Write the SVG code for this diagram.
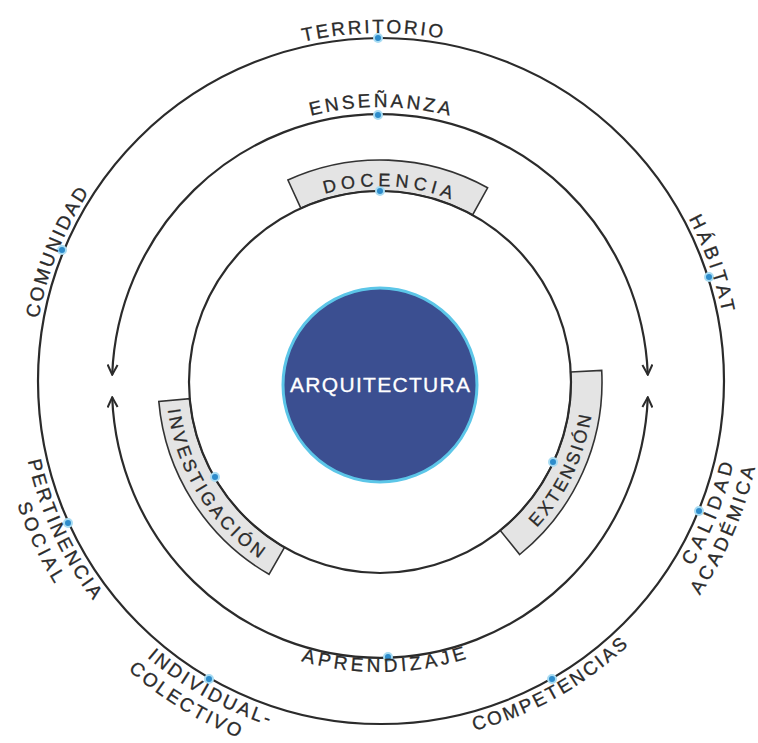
<svg xmlns="http://www.w3.org/2000/svg" xmlns:xlink="http://www.w3.org/1999/xlink" width="758" height="743" viewBox="0 0 758 743">
<style>
.ln{fill:none;stroke:#2b2b2b;stroke-width:2.2}
.tab{fill:#e4e4e4;stroke:#333;stroke-width:1.6}
.lbl{font-family:"Liberation Sans",Arial,sans-serif;font-size:19px;fill:#2b2b2b;stroke:#2b2b2b;stroke-width:0.3}
.tl{font-size:18px}
.dot{fill:#2d8ccb;stroke:#a8dcf3;stroke-width:2}
.ctr{font-family:"Liberation Sans",Arial,sans-serif;font-size:21px;fill:#ffffff;stroke:#ffffff;stroke-width:0.3}
</style>
<defs>
<marker id="arr" viewBox="0 0 12 12" refX="11" refY="6" markerWidth="12" markerHeight="12" markerUnits="userSpaceOnUse" orient="auto-start-reverse">
<path d="M1,1 L11,6 L1,11" fill="none" stroke="#2b2b2b" stroke-width="2"/>
</marker>
<path id="oCw" d="M79.6,207 A348,348 0 0 1 682.4,207"/>
<path id="oCcw1" d="M67.5,562 A362,362 0 0 0 694.5,562"/>
<path id="oCcw2" d="M48.4,573 A384,384 0 0 0 713.6,573"/>
<path id="mCw" d="M138.4,246.5 A279,279 0 0 1 621.6,246.5"/>
<path id="mCcw" d="M132.3,529 A286,286 0 0 0 627.7,529"/>
<path id="iCw" d="M210.3,284 A196,196 0 0 1 549.7,284"/>
<path id="iCcw" d="M194.7,489 A214,214 0 0 0 565.3,489"/>
</defs>
<rect width="758" height="743" fill="#ffffff"/>

<g id="outer-ring">
<circle class="ln" cx="381" cy="381" r="343"/>
</g>

<g id="connectors">
<path class="ln" d="M112.2,374.7 A268,271 0 0 1 647.8,374.7" marker-start="url(#arr)" marker-end="url(#arr)"/>
<path class="ln" d="M112.2,397.3 A268,271 0 0 0 647.8,397.3" marker-start="url(#arr)" marker-end="url(#arr)"/>
</g>

<g id="tab-docencia">
<path class="tab" d="M300.8,208.2 L287.9,180 A222,222 0 0 1 487.6,187.8 L472.6,215 A191,191 0 0 0 300.8,208.2 Z"/>
</g>
<g id="tab-investigacion">
<path class="tab" d="M284.5,547.4 L269,574.3 A222,222 0 0 1 158.8,401.4 L189.7,398.7 A191,191 0 0 0 284.5,547.4 Z"/>
</g>
<g id="tab-extension">
<path class="tab" d="M570.7,372 L601.7,370.4 A222,222 0 0 1 519.7,554.5 L500.2,530.4 A191,191 0 0 0 570.7,372 Z"/>
</g>

<g id="inner-ring">
<circle class="ln" cx="380" cy="382" r="191"/>
</g>

<g id="arquitectura">
<circle cx="380" cy="385" r="97" fill="#3b4f91" stroke="#5cc6e8" stroke-width="3"/>
<text class="ctr" x="380" y="392" text-anchor="middle" textLength="180" lengthAdjust="spacing">ARQUITECTURA</text>
</g>

<g id="dots">
<circle class="dot" cx="378" cy="38" r="4"/>
<circle class="dot" cx="378" cy="115" r="4"/>
<circle class="dot" cx="380" cy="191" r="4"/>
<circle class="dot" cx="62" cy="250" r="4"/>
<circle class="dot" cx="709" cy="277" r="4"/>
<circle class="dot" cx="68" cy="523" r="4"/>
<circle class="dot" cx="699" cy="511" r="4"/>
<circle class="dot" cx="209" cy="679" r="4"/>
<circle class="dot" cx="552" cy="679" r="4"/>
<circle class="dot" cx="388" cy="657" r="4"/>
<circle class="dot" cx="215" cy="477" r="4"/>
<circle class="dot" cx="553" cy="462" r="4"/>
</g>

<g id="label-territorio"><text class="lbl" text-anchor="middle" transform="rotate(-1.4 381 381)"><textPath href="#oCw" xlink:href="#oCw" startOffset="50%" textLength="140" lengthAdjust="spacing">TERRITORIO</textPath></text></g>
<g id="label-comunidad"><text class="lbl" text-anchor="middle" transform="rotate(-68.4 381 381)"><textPath href="#oCw" xlink:href="#oCw" startOffset="50%" textLength="137" lengthAdjust="spacing">COMUNIDAD</textPath></text></g>
<g id="label-habitat"><text class="lbl" text-anchor="middle" transform="rotate(70.4 381 381)"><textPath href="#oCw" xlink:href="#oCw" startOffset="50%" textLength="100" lengthAdjust="spacing">HÁBITAT</textPath></text></g>
<g id="label-pertinencia">
<text class="lbl" text-anchor="middle" transform="rotate(65 381 381)"><textPath href="#oCcw1" xlink:href="#oCcw1" startOffset="50%" textLength="155" lengthAdjust="spacing">PERTINENCIA</textPath></text>
<text class="lbl" text-anchor="middle" transform="rotate(64.7 381 381)"><textPath href="#oCcw2" xlink:href="#oCcw2" startOffset="50%" textLength="88" lengthAdjust="spacing">SOCIAL</textPath></text>
</g>
<g id="label-calidad">
<text class="lbl" text-anchor="middle" transform="rotate(-68 381 381)"><textPath href="#oCcw1" xlink:href="#oCcw1" startOffset="50%" textLength="111" lengthAdjust="spacing">CALIDAD</textPath></text>
<text class="lbl" text-anchor="middle" transform="rotate(-66.5 381 381)"><textPath href="#oCcw2" xlink:href="#oCcw2" startOffset="50%" textLength="140" lengthAdjust="spacing">ACADÉMICA</textPath></text>
</g>
<g id="label-individual">
<text class="lbl" text-anchor="middle" transform="rotate(29.2 381 381)"><textPath href="#oCcw1" xlink:href="#oCcw1" startOffset="50%" textLength="140" lengthAdjust="spacing">INDIVIDUAL-</textPath></text>
<text class="lbl" text-anchor="middle" transform="rotate(31.5 381 381)"><textPath href="#oCcw2" xlink:href="#oCcw2" startOffset="50%" textLength="130" lengthAdjust="spacing">COLECTIVO</textPath></text>
</g>
<g id="label-competencias"><text class="lbl" text-anchor="middle" transform="rotate(-29 381 381)"><textPath href="#oCcw1" xlink:href="#oCcw1" startOffset="50%" textLength="178" lengthAdjust="spacing">COMPETENCIAS</textPath></text></g>
<g id="label-ensenanza"><text class="lbl" text-anchor="middle"><textPath href="#mCw" xlink:href="#mCw" startOffset="50%" textLength="140" lengthAdjust="spacing">ENSEÑANZA</textPath></text></g>
<g id="label-aprendizaje"><text class="lbl" text-anchor="middle" transform="rotate(-0.8 380 386)"><textPath href="#mCcw" xlink:href="#mCcw" startOffset="50%" textLength="168" lengthAdjust="spacing">APRENDIZAJE</textPath></text></g>
<g id="label-docencia"><text class="lbl tl" text-anchor="middle" transform="rotate(2.4 380 382)"><textPath href="#iCw" xlink:href="#iCw" startOffset="50%" textLength="128" lengthAdjust="spacing">DOCENCIA</textPath></text></g>
<g id="label-investigacion"><text class="lbl tl" text-anchor="middle" transform="rotate(58.5 380 382)"><textPath href="#iCcw" xlink:href="#iCcw" startOffset="50%" textLength="180" lengthAdjust="spacing">INVESTIGACIÓN</textPath></text></g>
<g id="label-extension"><text class="lbl tl" text-anchor="middle" transform="rotate(-64 380 382)"><textPath href="#iCcw" xlink:href="#iCcw" startOffset="50%" textLength="126" lengthAdjust="spacing">EXTENSIÓN</textPath></text></g>
</svg>
